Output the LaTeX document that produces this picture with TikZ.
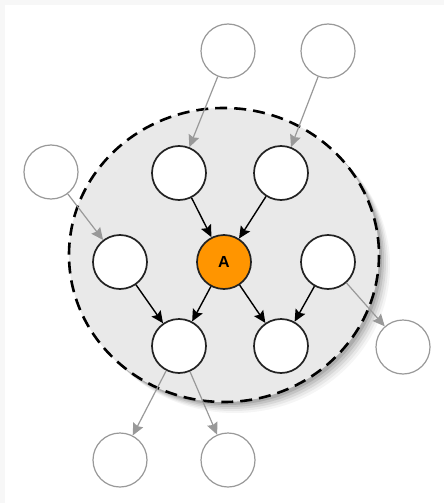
\documentclass[tikz,border=0pt]{standalone}
\usepackage{fontspec}
\setsansfont{Liberation Sans}
\usetikzlibrary{arrows.meta}
\definecolor{bgframe}{HTML}{F7F7F7}
\definecolor{groupfill}{HTML}{E9E9E9}
\definecolor{outergray}{HTML}{999999}
\definecolor{innerline}{HTML}{222222}
\definecolor{aorange}{HTML}{FF9500}
\tikzset{
  x=1pt, y=-1pt,
  inner/.style={circle, draw=innerline, line width=1.7pt, fill=white, minimum size=54pt, inner sep=0pt},
  outer/.style={circle, draw=outergray, line width=1.2pt, fill=white, minimum size=54pt, inner sep=0pt},
  anode/.style={inner, fill=aorange, font=\sffamily\bfseries\fontsize{16}{16}\selectfont},
  blackedge/.style={line width=1.4pt, draw=black, -{Stealth[length=12pt,width=11pt,inset=2pt]}},
  grayedge/.style={line width=1.2pt, draw=outergray, -{Stealth[length=12pt,width=11pt,inset=1.5pt]}, color=outergray},
}
\begin{document}
\begin{tikzpicture}
\useasboundingbox (0,0) rectangle (444,503);
\fill[bgframe] (0,0) rectangle (444,503);
\fill[white] (5,5) rectangle (444,503);
% shadow of group
\foreach \o/\a in {11/0.04,9/0.05,7/0.07,5/0.09,3/0.12} {
  \fill[black, opacity=\a] (224+\o,255+\o) ellipse [x radius=155, y radius=147];
}
\fill[groupfill] (224,255) ellipse [x radius=155, y radius=147];
\draw[black, line width=2.6pt, dash pattern=on 12pt off 7pt] (224,255) ellipse [x radius=155, y radius=147];

% outer nodes
\node[outer] (t1) at (228,51) {};
\node[outer] (t2) at (328,51) {};
\node[outer] (l1) at (51,172) {};
\node[outer] (r1) at (403,347) {};
\node[outer] (b1) at (120,460) {};
\node[outer] (b2) at (228,460) {};

% inner nodes
\node[inner] (i1) at (179,173) {};
\node[inner] (i2) at (281,173) {};
\node[inner] (m1) at (120,262) {};
\node[anode] (a) at (224,262) {A};
\node[inner] (m3) at (328,262) {};
\node[inner] (d1) at (179,346) {};
\node[inner] (d2) at (281,346) {};

% edges
\draw[grayedge] (t1) -- (i1);
\draw[grayedge] (t2) -- (i2);
\draw[grayedge] (l1) -- (m1);
\draw[blackedge] (i1) -- (a);
\draw[blackedge] (i2) -- (a);
\draw[blackedge] (a) -- (d1);
\draw[blackedge] (a) -- (d2);
\draw[blackedge] (m1) -- (d1);
\draw[blackedge] (m3) -- (d2);
\draw[grayedge] (m3) -- (r1);
\draw[grayedge] (d1) -- (b1);
\draw[grayedge] (d1) -- (b2);
\end{tikzpicture}
\end{document}
